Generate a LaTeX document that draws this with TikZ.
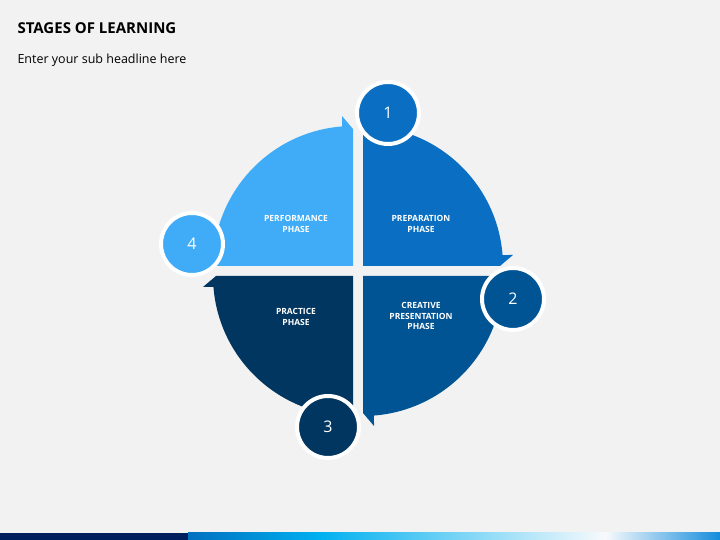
\documentclass[tikz,border=0pt]{standalone}
\usepackage{fontspec}
\setmainfont{Open Sans}
\usetikzlibrary{shadows}
\definecolor{bg}{HTML}{F2F2F2}
\definecolor{qa}{HTML}{0A6FC2}
\definecolor{qb}{HTML}{005494}
\definecolor{qc}{HTML}{003660}
\definecolor{qd}{HTML}{40ACF8}
\begin{document}
\begin{tikzpicture}[x=1pt,y=1pt,
  quad/.pic={\fill[pic actions] (0,0) -- (0,140) arc[start angle=90,end angle=4.5,radius=140] -- (150,11) -- (137,0) -- cycle;},
  num/.style={circle,draw=white,line width=4pt,minimum size=62pt,text=white,font=\fontsize{16}{16}\selectfont,drop shadow={shadow xshift=1pt,shadow yshift=-1.5pt,opacity=0.35}},
  lab/.style={text=white,font=\bfseries\fontsize{8.5}{10.5}\selectfont,align=center}]
\useasboundingbox (0,0) rectangle (720,540);
\fill[bg] (0,0) rectangle (720,540);
\node[anchor=west,font=\bfseries\fontsize{15}{15}\selectfont,text=black] (title) at (14,512) {STAGES OF LEARNING};
\node[anchor=west,font=\fontsize{12.5}{12.5}\selectfont,text=black] (sub) at (14,480) {Enter your sub headline here};
\fill[fill={rgb,255:red,0;green,30;blue,94}] (0,0) rectangle (188,7);
\shade[left color={rgb,255:red,0;green,112;blue,192},right color={rgb,255:red,0;green,176;blue,240}] (188,0) rectangle (320,7);
\shade[left color={rgb,255:red,0;green,176;blue,240},right color={rgb,255:red,248;green,250;blue,252}] (320,0) rectangle (605,7);
\shade[left color={rgb,255:red,248;green,250;blue,252},right color={rgb,255:red,20;green,140;blue,220}] (605,0) rectangle (720,7);
\pic[fill=qa] at (363,274) {quad};
\pic[fill=qb,rotate=-90] at (363,264) {quad};
\pic[fill=qc,rotate=180] at (353,264) {quad};
\pic[fill=qd,rotate=90] at (353,274) {quad};
\node[lab] (pa) at (421,316) {PREPARATION\\PHASE};
\node[lab] (pb) at (421,224) {CREATIVE\\PRESENTATION\\PHASE};
\node[lab] (pc) at (296,223) {PRACTICE\\PHASE};
\node[lab] (pd) at (296,316) {PERFORMANCE\\PHASE};
\node[num,fill=qa] (n1) at (388,427) {1};
\node[num,fill=qb] (n2) at (513,241) {2};
\node[num,fill=qc] (n3) at (328,113) {3};
\node[num,fill=qd] (n4) at (192,296) {4};
\end{tikzpicture}
\end{document}
